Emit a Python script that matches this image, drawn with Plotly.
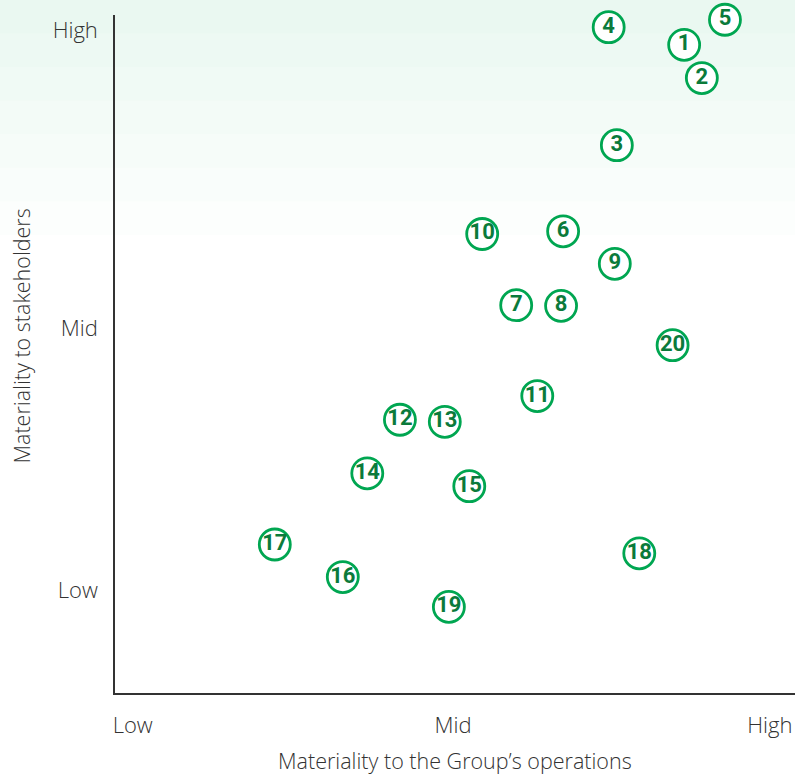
import plotly.graph_objects as go

# Issue numbers and their materiality scores (0-100 scale)
labels = ["1", "2", "3", "4", "5", "6", "7", "8", "9", "10",
          "11", "12", "13", "14", "15", "16", "17", "18", "19", "20"]
group_ops = [83.7, 86.3, 73.8, 72.6, 89.7, 65.9, 59.0, 65.6, 73.5, 54.0,
             62.1, 41.9, 48.5, 37.1, 52.1, 33.5, 23.5, 77.1, 49.1, 82.0]
stakeholders = [95.6, 90.7, 80.8, 98.2, 99.3, 68.1, 57.2, 57.1, 63.3, 67.7,
                43.8, 40.3, 40.0, 32.4, 30.5, 17.1, 21.9, 20.6, 12.7, 51.3]

x_tick_vals = [2.6, 49.7, 96.3]
x_tick_text = ["Low", "Mid", "High"]
y_tick_vals = [15.2, 53.8, 97.8]
y_tick_text = ["Low", "Mid", "High"]

GREEN = "#00a651"
DARK_GREEN = "#0b7a3b"
TEXT = "#333333"
FONT = "Open Sans"

fig = go.Figure()
fig.add_trace(go.Scatter(
    x=group_ops, y=stakeholders, text=labels,
    mode="markers+text", textposition="middle center",
    marker=dict(size=31, color="white", line=dict(color=GREEN, width=2.8)),
    textfont=dict(family="Roboto, Arial", size=22,
                  color=DARK_GREEN, weight="bold"),
    hoverinfo="skip", showlegend=False, cliponaxis=False,
))

# soft green gradient at top of the page
shapes = []
n = 7
top_px, bot_px = 0, 235
for i in range(n):
    ypx = top_px + (bot_px - top_px) * (i + 1) / n
    y0 = (693 - ypx) / 678
    shapes.append(dict(type="rect", xref="paper", yref="paper",
                       x0=-0.17, x1=1.01, y0=y0, y1=1.03,
                       fillcolor="rgba(40,150,80,0.01)", line=dict(width=0),
                       layer="below"))

fig.update_layout(
    width=795, height=775,
    margin=dict(l=115, r=0, t=15, b=82),
    paper_bgcolor="white", plot_bgcolor="rgba(0,0,0,0)",
    shapes=shapes,
    font=dict(family=FONT, color=TEXT, size=22),
    xaxis=dict(range=[0, 100], showgrid=False, zeroline=False,
               showline=True, linecolor=TEXT, linewidth=1.5,
               tickvals=x_tick_vals, ticktext=x_tick_text, ticks="",
               ticklabelstandoff=12, tickfont=dict(size=22, weight=300),
               fixedrange=True),
    yaxis=dict(range=[0, 100], showgrid=False, zeroline=False,
               showline=True, linecolor=TEXT, linewidth=1.5,
               tickvals=y_tick_vals, ticktext=y_tick_text, ticks="",
               ticklabelstandoff=11, tickfont=dict(size=22, weight=300),
               fixedrange=True),
    annotations=[
        dict(text="Materiality to the Group’s operations", xref="paper", yref="paper",
             x=0.5, y=-0.099, xanchor="center", yanchor="middle", showarrow=False,
             font=dict(size=21.5, weight=300, color=TEXT)),
        dict(text="Materiality to stakeholders", xref="paper", yref="paper",
             x=-0.137, y=0.527, xanchor="center", yanchor="middle", showarrow=False,
             textangle=-90, font=dict(size=21.5, weight=300, color=TEXT)),
    ],
)

fig.write_html("out.html", config={"displayModeBar": False},
               post_script="document.body.style.margin='0';document.body.style.padding='0';document.body.style.overflow='hidden';")
